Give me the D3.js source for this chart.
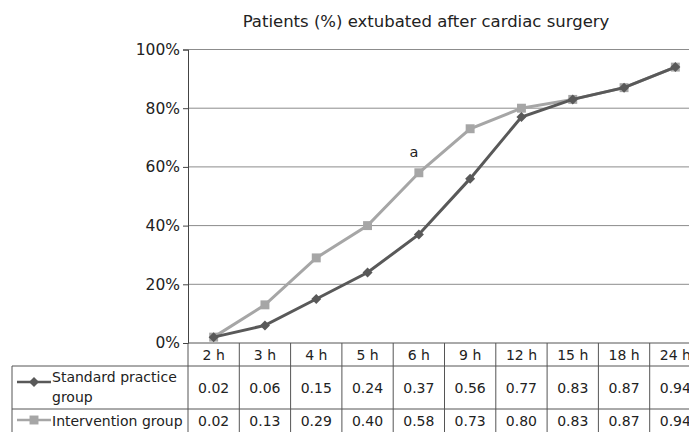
<!DOCTYPE html>
<html>
<head>
<meta charset="utf-8">
<script src="https://cdn.jsdelivr.net/npm/d3@7"></script>
<style>
  body { margin: 0; background: #fff; }
  svg { display: block; font-family: "DejaVu Sans", Verdana, sans-serif; }
</style>
</head>
<body>
<div id="chart"></div>
<script>
const svgWidth = 689
const svgHeight = 432

// data
const hours = ["2 h", "3 h", "4 h", "5 h", "6 h", "9 h", "12 h", "15 h", "18 h", "24 h"]
const standardGroup = [0.02, 0.06, 0.15, 0.24, 0.37, 0.56, 0.77, 0.83, 0.87, 0.94]
const interventionGroup = [0.02, 0.13, 0.29, 0.40, 0.58, 0.73, 0.80, 0.83, 0.87, 0.94]
const yTicks = [0, 0.2, 0.4, 0.6, 0.8, 1]

let plot = { left: 188, right: 701, top: 49.5, bottom: 343 }
let table = { left: 12, headerBottom: 366, row1Bottom: 409, row2Bottom: 440 }

let svg = d3
  .select("#chart")
  .append("svg")
  .attr("width", svgWidth)
  .attr("height", svgHeight)

let xScale = d3.scaleBand().domain(hours).range([plot.left, plot.right])
let yScale = d3.scaleLinear().domain([0, 1]).range([plot.bottom, plot.top])
let xMid = h => xScale(h) + xScale.bandwidth() / 2

// title
svg.append("text")
  .attr("x", 426)
  .attr("y", 27)
  .attr("text-anchor", "middle")
  .attr("font-size", "16.5px")
  .attr("fill", "#222")
  .text("Patients (%) extubated after cardiac surgery")

// gridlines
svg.append("g")
  .selectAll("line")
  .data(yTicks.slice(1))
  .enter()
  .append("line")
  .attr("x1", plot.left)
  .attr("x2", plot.right)
  .attr("y1", d => yScale(d))
  .attr("y2", d => yScale(d))
  .attr("stroke", "#8c8c8c")
  .attr("stroke-width", 1)

// y axis
let leftAxis = d3.axisLeft(yScale)
  .tickValues(yTicks)
  .tickFormat(d3.format(".0%"))
  .tickSize(5)
  .tickPadding(3)

let yAxis = svg.append("g")
  .attr("transform", `translate(${plot.left}, 0)`)
  .call(leftAxis)
yAxis.select(".domain").attr("stroke", "#444")
yAxis.selectAll(".tick line").attr("stroke", "#444")
yAxis.selectAll("text")
  .attr("font-family", "DejaVu Sans, Verdana, sans-serif")
  .attr("font-size", "15.5px")
  .attr("fill", "#222")

// table grid
let grid = svg.append("g").attr("stroke", "#555").attr("stroke-width", 1)

grid.append("line")
  .attr("x1", plot.left).attr("x2", plot.right)
  .attr("y1", plot.bottom).attr("y2", plot.bottom)
grid.selectAll(".hline")
  .data([table.headerBottom, table.row1Bottom])
  .enter()
  .append("line")
  .attr("x1", table.left).attr("x2", plot.right)
  .attr("y1", d => d).attr("y2", d => d)
grid.append("line")
  .attr("x1", table.left).attr("x2", table.left)
  .attr("y1", table.headerBottom).attr("y2", table.row2Bottom)
grid.selectAll(".vline")
  .data(hours.slice(1))
  .enter()
  .append("line")
  .attr("x1", d => xScale(d)).attr("x2", d => xScale(d))
  .attr("y1", plot.bottom).attr("y2", table.row2Bottom)
grid.append("line")
  .attr("x1", plot.left).attr("x2", plot.left)
  .attr("y1", plot.bottom).attr("y2", table.row2Bottom)

// header labels
svg.append("g")
  .selectAll("text")
  .data(hours)
  .enter()
  .append("text")
  .attr("x", d => xMid(d))
  .attr("y", 360)
  .attr("text-anchor", "middle")
  .attr("font-size", "14px")
  .attr("fill", "#222")
  .text(d => d)

// table values
function valueRow(values, y) {
  svg.append("g")
    .selectAll("text")
    .data(values)
    .enter()
    .append("text")
    .attr("x", (d, i) => xMid(hours[i]))
    .attr("y", y)
    .attr("text-anchor", "middle")
    .attr("font-size", "14px")
    .attr("fill", "#222")
    .text(d => d.toFixed(2))
}
valueRow(standardGroup, 393)
valueRow(interventionGroup, 426)

const darkColor = "#595959"
const lightColor = "#a6a6a6"

// diamond = square turned 45 degrees
let diamond = d3.symbol().type(d3.symbolSquare).size(50)
let square = d3.symbol().type(d3.symbolSquare).size(80)

// legend keys in table
function legendKey(y, color, sym, rot) {
  svg.append("line")
    .attr("x1", 17).attr("x2", 51)
    .attr("y1", y).attr("y2", y)
    .attr("stroke", color).attr("stroke-width", 2.5)
  svg.append("path")
    .attr("d", sym)
    .attr("transform", `translate(34, ${y}) rotate(${rot})`)
    .attr("fill", color)
}
legendKey(382, darkColor, diamond, 45)
legendKey(420, lightColor, square, 0)

svg.append("text")
  .attr("x", 52).attr("y", 382)
  .attr("font-size", "14px").attr("fill", "#222")
  .text("Standard practice")
svg.append("text")
  .attr("x", 52).attr("y", 402)
  .attr("font-size", "14px").attr("fill", "#222")
  .text("group")
svg.append("text")
  .attr("x", 52).attr("y", 426)
  .attr("font-size", "14px").attr("fill", "#222")
  .text("Intervention group")

// series
let line = d3.line()
  .x((d, i) => xMid(hours[i]))
  .y(d => yScale(d))

function drawSeries(values, color, sym, rot) {
  svg.append("path")
    .datum(values)
    .attr("d", line)
    .attr("fill", "none")
    .attr("stroke", color)
    .attr("stroke-width", 3)
  svg.append("g")
    .selectAll("path")
    .data(values)
    .enter()
    .append("path")
    .attr("d", sym)
    .attr("transform", (d, i) => `translate(${xMid(hours[i])}, ${yScale(d)}) rotate(${rot})`)
    .attr("fill", color)
}
drawSeries(interventionGroup, lightColor, square, 0)
drawSeries(standardGroup, darkColor, diamond, 45)

// significance mark above 6 h
svg.append("text")
  .attr("x", xMid("6 h") - 5)
  .attr("y", 157)
  .attr("text-anchor", "middle")
  .attr("font-size", "14.5px")
  .attr("fill", "#222")
  .text("a")
</script>
</body>
</html>
